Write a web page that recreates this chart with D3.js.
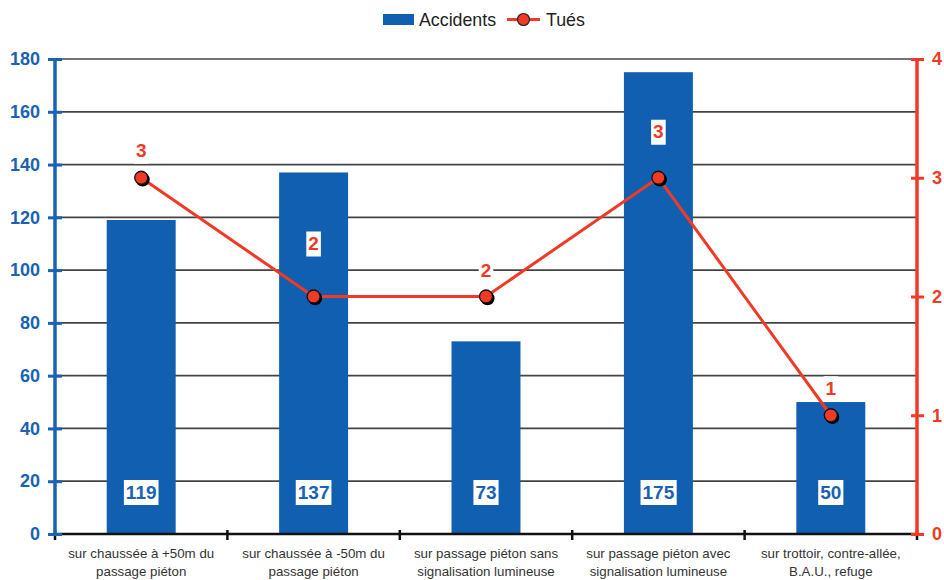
<!DOCTYPE html>
<html><head><meta charset="utf-8">
<script src="https://cdn.jsdelivr.net/npm/d3@7/dist/d3.min.js"></script>
<style>
body{margin:0;background:#fff;}
text{font-family:"Liberation Sans",Arial,Helvetica,sans-serif;}
</style></head>
<body><svg id="c" width="944" height="580"></svg>
<script>
const categories = [
  ["sur chaussée à +50m du","passage piéton"],
  ["sur chaussée à -50m du","passage piéton"],
  ["sur passage piéton sans","signalisation lumineuse"],
  ["sur passage piéton avec","signalisation lumineuse"],
  ["sur trottoir, contre-allée,","B.A.U., refuge"]
];
const accidents = [119, 137, 73, 175, 50];
const tues = [3, 2, 2, 3, 1];
const leftTicks = [0,20,40,60,80,100,120,140,160,180];
const rightTicks = [0,1,2,3,4];
// layout: label offsets (px above point) for the Tués labels
const tuesLabelOffset = [27, 53, 26, 46, 27];

const BLUE = "#115fb0", RED = "#f03a25", AXBLUE="#1a62b4";
const svg = d3.select("#c");
const L = 55, R = 917, T = 59, B = 534;
const x = d3.scaleBand().domain(d3.range(categories.length)).range([L, R]).paddingInner(0).paddingOuter(0);
const yL = d3.scaleLinear().domain([0,180]).range([B, T]);
const yR = d3.scaleLinear().domain([0,4]).range([B, T]);

// grid
svg.append("g").selectAll("line").data(leftTicks.filter(d=>d>0)).join("line")
  .attr("x1", L).attr("x2", R).attr("y1", d=>yL(d)).attr("y2", d=>yL(d))
  .attr("stroke", "#444").attr("stroke-width", 1.7);

// bars
const bw = x.bandwidth()*0.40;
svg.append("g").selectAll("rect").data(accidents).join("rect")
  .attr("x", (d,i)=>x(i)+x.bandwidth()/2-bw/2).attr("width", bw)
  .attr("y", d=>yL(d)).attr("height", d=>B-yL(d)).attr("fill", BLUE);

// bar labels
const bl = svg.append("g").selectAll("g").data(accidents).join("g")
  .attr("transform",(d,i)=>`translate(${x(i)+x.bandwidth()/2},${yL(0)-42})`);
bl.append("text").text(d=>d).attr("text-anchor","middle").attr("dy","0.35em")
  .attr("font-size",19).attr("font-weight","bold").attr("fill",AXBLUE)
  .each(function(){
    const bb=this.getBBox();
    d3.select(this.parentNode).insert("rect","text").attr("x",bb.x-2).attr("y",-12).attr("width",bb.width+4).attr("height",25).attr("fill","#fff");
  });

// x axis
svg.append("line").attr("x1",L).attr("x2",R).attr("y1",B).attr("y2",B).attr("stroke","#111").attr("stroke-width",2.5);
svg.append("g").selectAll("line").data(d3.range(categories.length+1)).join("line")
  .attr("x1",i=>L+i*x.bandwidth()).attr("x2",i=>L+i*x.bandwidth()).attr("y1",B-4).attr("y2",B+6)
  .attr("stroke","#111").attr("stroke-width",2.5);
const xl = svg.append("g").selectAll("text").data(categories).join("text")
  .attr("x",(d,i)=>x(i)+x.bandwidth()/2).attr("y",558).attr("text-anchor","middle")
  .attr("font-size",13.3).attr("fill","#333");
xl.selectAll("tspan").data(d=>d).join("tspan").attr("x",function(){return this.parentNode.getAttribute("x");})
  .attr("dy",(d,i)=>i?18:0).text(d=>d);

// left axis
const ga = svg.append("g").attr("transform",`translate(${L},0)`)
  .call(d3.axisLeft(yL).tickValues(leftTicks).tickSize(0).tickPadding(15));
ga.select(".domain").remove();
ga.append("line").attr("y1",T-1).attr("y2",B+1).attr("stroke",AXBLUE).attr("stroke-width",3.5);
ga.selectAll(".tick").append("line").attr("x1",-7).attr("x2",7).attr("stroke",AXBLUE).attr("stroke-width",3);
ga.selectAll("text").attr("font-size",18).attr("font-weight","bold").attr("fill",AXBLUE).attr("font-family","Liberation Sans, Arial, sans-serif");

// right axis
const gr = svg.append("g").attr("transform",`translate(${R},0)`)
  .call(d3.axisRight(yR).tickValues(rightTicks).tickSize(0).tickPadding(15).tickFormat(d3.format("d")));
gr.select(".domain").remove();
gr.append("line").attr("y1",T-1).attr("y2",B+1).attr("stroke",RED).attr("stroke-width",3.5);
gr.selectAll(".tick").append("line").attr("x1",-6).attr("x2",7).attr("stroke",RED).attr("stroke-width",3);
gr.selectAll("text").attr("font-size",18).attr("font-weight","bold").attr("fill",RED).attr("font-family","Liberation Sans, Arial, sans-serif");

// line
const cx = i=>x(i)+x.bandwidth()/2;
svg.append("path").datum(tues).attr("fill","none").attr("stroke",RED).attr("stroke-width",3)
  .attr("d", d3.line().x((d,i)=>cx(i)).y(d=>yR(d)));
const mk = svg.append("g").selectAll("g").data(tues).join("g").attr("transform",(d,i)=>`translate(${cx(i)},${yR(d)})`);
mk.append("circle").attr("cx",1.5).attr("cy",1.8).attr("r",7).attr("fill","#000");
mk.append("circle").attr("r",6.5).attr("fill",RED).attr("stroke","#111").attr("stroke-width",1.3);

// tues labels
const tl = svg.append("g").selectAll("g").data(tues).join("g")
  .attr("transform",(d,i)=>`translate(${cx(i)},${yR(d)-tuesLabelOffset[i]})`);
tl.append("text").text(d=>d).attr("text-anchor","middle").attr("dy","0.35em")
  .attr("font-size",19).attr("font-weight","bold").attr("fill",RED)
  .each(function(){
    const bb=this.getBBox();
    d3.select(this.parentNode).insert("rect","text").attr("x",bb.x-2).attr("y",-12).attr("width",bb.width+4).attr("height",25).attr("fill","#fff");
  });

// legend
const lg = svg.append("g");
lg.append("rect").attr("x",383).attr("y",14).attr("width",31).attr("height",11).attr("fill",BLUE);
lg.append("text").attr("x",419).attr("y",26).attr("font-size",17.8).attr("fill","#222").text("Accidents");
lg.append("line").attr("x1",507).attr("x2",540).attr("y1",19.5).attr("y2",19.5).attr("stroke",RED).attr("stroke-width",3);
lg.append("circle").attr("cx",523.5).attr("cy",19.5).attr("r",6).attr("fill",RED).attr("stroke","#222").attr("stroke-width",1.2);
lg.append("text").attr("x",546).attr("y",26).attr("font-size",17.8).attr("fill","#222").text("Tués");
</script></body></html>
